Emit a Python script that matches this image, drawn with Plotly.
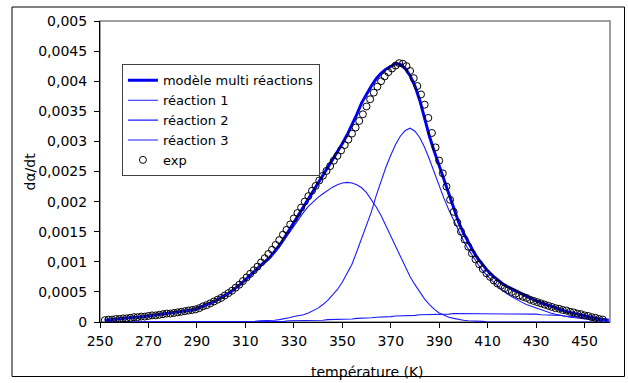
import plotly.graph_objects as go

# ---------------- data ----------------
T_fit = list(range(252, 461, 2))  # temperature grid of the fitted curves (K)

model = [0.00003, 0.00004, 0.00005, 0.00005, 0.00006, 0.00007, 0.00008, 0.00008, 0.00009, 0.0001,
         0.00011, 0.00012, 0.00013, 0.00014, 0.00015, 0.00016, 0.00017, 0.00019, 0.0002, 0.00022,
         0.00025, 0.00028, 0.00032, 0.00036, 0.0004, 0.00045, 0.0005, 0.00056, 0.00063, 0.0007,
         0.00077, 0.00085, 0.00093, 0.001, 0.00107, 0.00117, 0.00127, 0.00139, 0.00152, 0.00166,
         0.00179, 0.00192, 0.00205, 0.00218, 0.00231, 0.00244, 0.00257, 0.0027, 0.00283, 0.00296,
         0.00311, 0.00327, 0.00345, 0.00364, 0.00379, 0.00392, 0.00404, 0.00413, 0.0042, 0.00425,
         0.00429, 0.00428, 0.00421, 0.00409, 0.00392, 0.00368, 0.00338, 0.00308, 0.00283, 0.0026,
         0.00237, 0.00213, 0.00188, 0.00166, 0.00148, 0.00132, 0.00118, 0.00105, 0.00094, 0.00085,
         0.00077, 0.0007, 0.00064, 0.00059, 0.00055, 0.0005, 0.00046, 0.00042, 0.00038, 0.00035,
         0.00032, 0.00029, 0.00026, 0.00023, 0.00021, 0.00018, 0.00016, 0.00014, 0.00012, 0.0001,
         0.00008, 0.00007, 0.00005, 0.00004, 0.00003]

reaction1 = [0.00003, 0.00004, 0.00005, 0.00005, 0.00006, 0.00007, 0.00008, 0.00008, 0.00009, 0.0001,
             0.00011, 0.00012, 0.00013, 0.00014, 0.00015, 0.00016, 0.00017, 0.00019, 0.0002, 0.00022,
             0.00025, 0.00028, 0.00032, 0.00036, 0.0004, 0.00045, 0.0005, 0.00056, 0.00062, 0.00069,
             0.00076, 0.00084, 0.00091, 0.00098, 0.00105, 0.00114, 0.00124, 0.00136, 0.00148, 0.0016,
             0.00171, 0.00182, 0.00192, 0.002, 0.00207, 0.00213, 0.00219, 0.00224, 0.00228, 0.00231,
             0.00232, 0.00231, 0.00228, 0.00223, 0.00215, 0.00204, 0.00191, 0.00177, 0.0016, 0.00143,
             0.00125, 0.00107, 0.0009, 0.00075, 0.00062, 0.00049, 0.00038, 0.00029, 0.00021, 0.00015,
             0.00011, 0.00008, 0.00006, 0.00004, 0.00003, 0.00002, 0.00002, 0.00001, 0.00001] + [0.0] * 26

reaction2 = [0.0] * 29 + [
             0.00001, 0.00001, 0.00001, 0.00002, 0.00002, 0.00003, 0.00003, 0.00004, 0.00005, 0.00007,
             0.00009, 0.0001, 0.00012, 0.00015, 0.00019, 0.00023, 0.00029, 0.00036, 0.00045, 0.00054,
             0.00066, 0.0008, 0.00096, 0.00117, 0.0014, 0.00162, 0.00183, 0.0021, 0.00234, 0.00257,
             0.00277, 0.00295, 0.00309, 0.00318, 0.00322, 0.00317, 0.00306, 0.0029, 0.0027, 0.00248,
             0.00226, 0.00205, 0.00186, 0.00168, 0.00151, 0.00135, 0.00121, 0.00108, 0.00096, 0.00085,
             0.00076, 0.00068, 0.0006, 0.00053, 0.00047, 0.00042, 0.00037, 0.00033, 0.00029, 0.00026,
             0.00023, 0.0002, 0.00017, 0.00015, 0.00013, 0.00011, 0.0001, 0.00008, 0.00007, 0.00006,
             0.00005, 0.00004, 0.00003, 0.00002, 0.00002, 0.00001]

reaction3 = [0.0] * 34 + [
             0.00001, 0.00001, 0.00001, 0.00001, 0.00002, 0.00002, 0.00002, 0.00002, 0.00003, 0.00003,
             0.00003, 0.00003, 0.00004, 0.00004, 0.00004, 0.00005, 0.00005, 0.00005, 0.00006, 0.00006,
             0.00007, 0.00007, 0.00008, 0.00008, 0.00009, 0.00009, 0.0001, 0.0001, 0.00011, 0.00011,
             0.00011, 0.00012, 0.00012, 0.00012, 0.00013, 0.00013, 0.00013, 0.00013, 0.00014, 0.00014,
             0.00014, 0.00014, 0.00014, 0.00014, 0.00014, 0.00014, 0.00014, 0.00014, 0.00014, 0.00014,
             0.00014, 0.00014, 0.00013, 0.00013, 0.00013, 0.00013, 0.00012, 0.00012, 0.00012, 0.00011,
             0.00011, 0.0001, 0.0001, 0.00009, 0.00008, 0.00007, 0.00006, 0.00005, 0.00004, 0.00003,
             0.00002]

T_exp = [252 + 1.5 * i for i in range(138)]  # measurement temperatures (K)
exp = [0.00003, 0.00004, 0.00004, 0.00005, 0.00005, 0.00006, 0.00006, 0.00007, 0.00008, 0.00008,
       0.00009, 0.00009, 0.0001, 0.00011, 0.00011, 0.00012, 0.00013, 0.00014, 0.00014, 0.00015,
       0.00016, 0.00017, 0.00018, 0.00019, 0.0002, 0.00021, 0.00023, 0.00026, 0.00028, 0.00031,
       0.00034, 0.00037, 0.0004, 0.00044, 0.00048, 0.00052, 0.00057, 0.00062, 0.00068, 0.00074,
       0.0008, 0.00086, 0.00092, 0.00099, 0.00106, 0.00113, 0.0012, 0.00128, 0.00136, 0.00145,
       0.00153, 0.00162, 0.00172, 0.00181, 0.0019, 0.002, 0.00209, 0.00218, 0.00226, 0.00235,
       0.00243, 0.00251, 0.00259, 0.00268, 0.00276, 0.00285, 0.00294, 0.00303, 0.00313, 0.00323,
       0.00334, 0.00345, 0.00358, 0.0037, 0.00381, 0.00391, 0.004, 0.00408, 0.00415, 0.00421,
       0.00426, 0.0043, 0.00429, 0.00425, 0.00417, 0.00405, 0.00392, 0.00378, 0.00361, 0.00339,
       0.00314, 0.0029, 0.00268, 0.00247, 0.00225, 0.00203, 0.00183, 0.00165, 0.0015, 0.00137,
       0.00125, 0.00114, 0.00104, 0.00096, 0.00088, 0.00081, 0.00075, 0.00069, 0.00064, 0.0006,
       0.00056, 0.00053, 0.0005, 0.00047, 0.00044, 0.00042, 0.0004, 0.00037, 0.00035, 0.00033,
       0.00031, 0.00029, 0.00027, 0.00025, 0.00023, 0.00022, 0.0002, 0.00019, 0.00017, 0.00016,
       0.00014, 0.00013, 0.00011, 0.0001, 0.00008, 0.00007, 0.00005, 0.00004]

x_ticks = [250, 270, 290, 310, 330, 350, 370, 390, 410, 430, 450]
y_ticks = [0, 0.0005, 0.001, 0.0015, 0.002, 0.0025, 0.003, 0.0035, 0.004, 0.0045, 0.005]
y_tick_labels = ["0", "0,0005", "0,001", "0,0015", "0,002", "0,0025", "0,003", "0,0035", "0,004", "0,0045", "0,005"]

# ---------------- figure ----------------
FONT = "DejaVu Sans, Arial, sans-serif"
fig = go.Figure()

fig.add_trace(go.Scatter(x=T_fit, y=model, mode="lines", name="modèle multi réactions",
                         line=dict(color="#0000F0", width=3)))
fig.add_trace(go.Scatter(x=T_fit, y=reaction1, mode="lines", name="réaction 1",
                         line=dict(color="#1A1AFF", width=1.1)))
fig.add_trace(go.Scatter(x=T_fit, y=reaction2, mode="lines", name="réaction 2",
                         line=dict(color="#1A1AFF", width=1.1)))
fig.add_trace(go.Scatter(x=T_fit, y=reaction3, mode="lines", name="réaction 3",
                         line=dict(color="#1A1AFF", width=1.1)))
fig.add_trace(go.Scatter(x=T_exp, y=exp, mode="markers", name="exp",
                         marker=dict(symbol="circle-open", size=7, color="black",
                                     line=dict(color="black", width=1))))

fig.update_layout(
    width=628, height=383,
    margin=dict(l=100, r=18, t=21, b=61),
    paper_bgcolor="white", plot_bgcolor="white",
    font=dict(family=FONT, size=14, color="black"),
    showlegend=True,
    legend=dict(x=0.043, y=0.856, xanchor="left", yanchor="top",
                bgcolor="white", bordercolor="#404040", borderwidth=1,
                font=dict(family=FONT, size=13, color="black"),
                tracegroupgap=0, itemwidth=30),
    xaxis=dict(range=[250, 460.5], tickvals=x_ticks, ticktext=[str(v) for v in x_ticks],
               showgrid=False, zeroline=False, showline=True, linecolor="black", linewidth=1,
               ticks="outside", ticklen=5, tickcolor="black", ticklabelstandoff=1,
               tickfont=dict(family=FONT, size=14)),
    yaxis=dict(range=[0, 0.005], tickvals=y_ticks, ticktext=y_tick_labels,
               showgrid=False, zeroline=False, showline=True, linecolor="black", linewidth=1,
               ticks="outside", ticklen=5, tickcolor="black", ticklabelstandoff=4,
               tickfont=dict(family=FONT, size=14)),
    shapes=[
        dict(type="rect", xref="paper", yref="paper", x0=0, x1=1, y0=0, y1=1,
             line=dict(color="#808080", width=1.5), layer="below"),
        dict(type="rect", xref="paper", yref="paper",
             x0=(12 - 100) / 510, x1=(624.5 - 100) / 510,
             y0=(322 - 376.5) / 301, y1=(322 - 7) / 301,
             line=dict(color="black", width=1), layer="below"),
    ],
    annotations=[
        dict(text="température (K)", xref="paper", yref="paper",
             x=(367 - 100) / 510, y=(322 - 372) / 301, xanchor="center", yanchor="middle",
             showarrow=False, font=dict(family=FONT, size=14)),
        dict(text="dα/dt", xref="paper", yref="paper",
             x=(29 - 100) / 510, y=0.5, xanchor="center", yanchor="middle", textangle=-90,
             showarrow=False, font=dict(family=FONT, size=14)),
    ],
)

fig.write_html("out.html")
